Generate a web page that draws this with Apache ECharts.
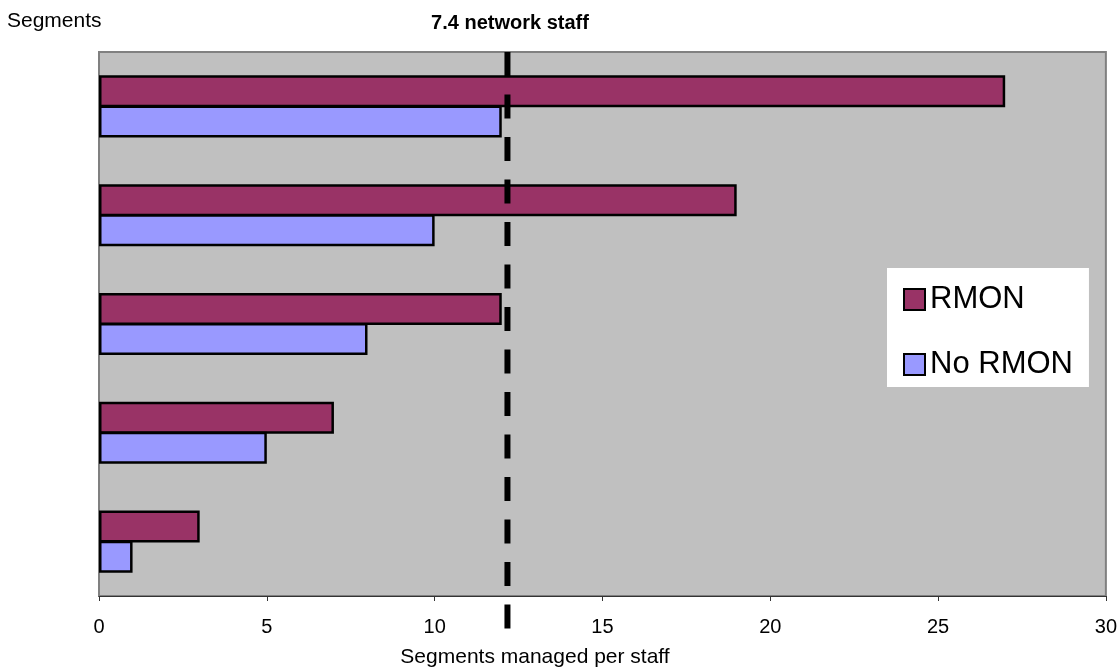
<!DOCTYPE html>
<html>
<head>
<meta charset="utf-8">
<script src="https://cdn.jsdelivr.net/npm/echarts@6/dist/echarts.min.js"></script>
<style>
  html, body { margin: 0; padding: 0; background: #fff; }
  #chart { width: 1120px; height: 670px; }
</style>
</head>
<body>
<div id="chart"></div>
<script>
// data (top group first)
const categories = ['Group 1', 'Group 2', 'Group 3', 'Group 4', 'Group 5'];
const rmon = [27, 19, 12, 7, 3];
const noRmon = [12, 10, 8, 5, 1];
const staffLine = 12.17; // where the "7.4 network staff" marker sits
const xTicks = [0, 5, 10, 15, 20, 25, 30];

const chart = echarts.init(document.getElementById('chart'));

const options = {
  animation: false,
  textStyle: { fontFamily: 'Liberation Sans, Arial, sans-serif', color: '#000' },
  title: [
    {
      text: 'Segments',
      left: 7, top: 11, padding: 0,
      textStyle: { fontSize: 21, fontWeight: 'normal', color: '#000' }
    },
    {
      text: '7.4 network staff',
      left: 510, top: 13, padding: 0, textAlign: 'center',
      textStyle: { fontSize: 20, fontWeight: 'bold', color: '#000' }
    },
    {
      text: 'Segments managed per staff',
      left: 535, top: 647, padding: 0, textAlign: 'center',
      textStyle: { fontSize: 21, fontWeight: 'normal', color: '#000' }
    }
  ],
  legend: {
    orient: 'vertical',
    left: 887, top: 268,
    padding: [16, 16, 7, 16],
    backgroundColor: '#fff',
    itemGap: 34,
    itemWidth: 21, itemHeight: 21,
    icon: 'rect',
    data: ['RMON', 'No RMON'],
    textStyle: { fontSize: 31, color: '#000' }
  },
  grid: {
    left: 99, right: 14, top: 52, bottom: 74,
    show: true,
    backgroundColor: '#C0C0C0',
    borderColor: '#808080',
    borderWidth: 2
  },
  xAxis: {
    type: 'value',
    min: xTicks[0], max: xTicks[xTicks.length - 1], interval: 5,
    axisLine: { show: true, lineStyle: { color: '#333', width: 1 } },
    axisTick: { show: true, length: 5, lineStyle: { color: '#333' } },
    axisLabel: { fontSize: 20, color: '#000', margin: 21 },
    splitLine: { show: false }
  },
  yAxis: [
    {
      type: 'category',
      data: categories,
      inverse: true,
      axisLine: { show: true, lineStyle: { color: '#808080', width: 2 } },
      axisTick: { show: false },
      axisLabel: { show: false }
    },
    {
      type: 'value', min: 0, max: 1, show: false
    }
  ],
  series: [
    {
      name: 'RMON',
      type: 'bar',
      data: rmon,
      barWidth: 32,
      barGap: '-6%',
      itemStyle: { color: '#993366', borderColor: '#000', borderWidth: 2.5 }
    },
    {
      name: 'No RMON',
      type: 'bar',
      data: noRmon,
      barWidth: 32,
      barGap: '-6%',
      itemStyle: { color: '#9999FF', borderColor: '#000', borderWidth: 2.5 }
    },
    {
      name: 'staff',
      type: 'line',
      yAxisIndex: 1,
      clip: false,
      symbol: 'none',
      silent: true,
      z: 10,
      data: [[staffLine, 1], [staffLine, -0.0625]],
      lineStyle: { color: '#000', width: 6, type: [24, 18.5] }
    }
  ]
};

chart.setOption(options);
window.addEventListener('resize', () => chart.resize());
</script>
</body>
</html>
